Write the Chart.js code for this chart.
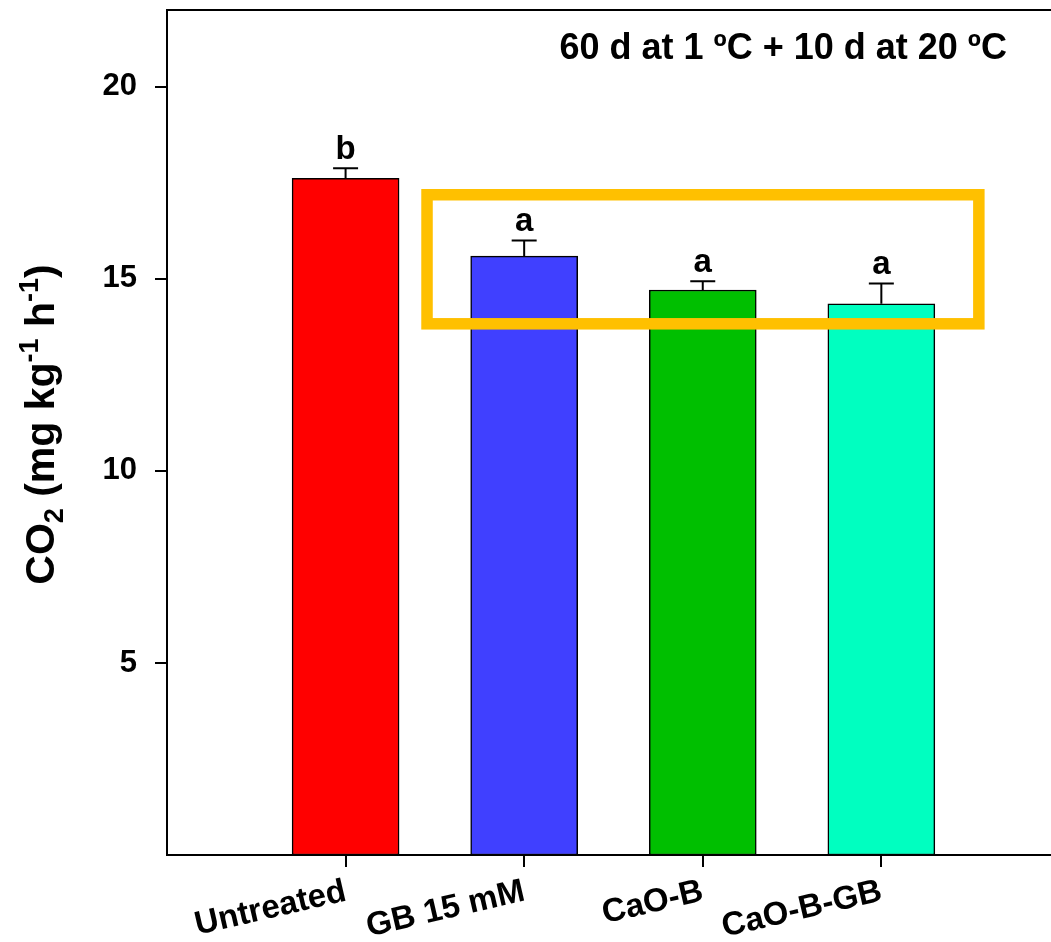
<!DOCTYPE html>
<html>
<head>
<meta charset="utf-8">
<script src="https://cdn.jsdelivr.net/npm/chart.js@4.4.1/dist/chart.umd.min.js"></script>
<style>
  html, body { margin: 0; padding: 0; background: #ffffff; }
  #wrap { width: 1051px; height: 942px; }
</style>
</head>
<body>
<div id="wrap"><canvas id="chart" width="1051" height="942"></canvas></div>
<script>
// Treatments and measured respiration rate (CO2, mg kg-1 h-1)
const categories = ['Untreated', 'GB 15 mM', 'CaO-B', 'CaO-B-GB'];
const co2Means = [17.62, 15.59, 14.71, 14.35];
const co2Errors = [0.26, 0.41, 0.23, 0.53];
const significance = ['b', 'a', 'a', 'a'];
const barColors = ['#FF0000', '#4040FF', '#00BF00', '#00FFC0'];
const yTickValues = [5, 10, 15, 20];
const conditionLabel = '60 d at 1 \u00BAC + 10 d at 20 \u00BAC';
// highlight box around the treated groups, in axis units
const boxX = [1.456, 4.546];
const boxY = [13.83, 17.19];

const FONT = '"Liberation Sans", Arial, Helvetica, sans-serif';

const points = categories.map((c, i) => ({ x: i + 1, y: co2Means[i] }));

const overlay = {
  id: 'overlay',
  afterDatasetsDraw(chart) {
    const ctx = chart.ctx;
    const xs = chart.scales.x, ys = chart.scales.y;
    const area = chart.chartArea;
    ctx.save();

    // error bars (upper half) with caps
    ctx.strokeStyle = '#000';
    ctx.lineWidth = 2;
    co2Means.forEach((m, i) => {
      const px = xs.getPixelForValue(i + 1);
      const y0 = ys.getPixelForValue(m);
      const y1 = ys.getPixelForValue(m + co2Errors[i]);
      ctx.beginPath();
      ctx.moveTo(px, y0);
      ctx.lineTo(px, y1);
      ctx.moveTo(px - 12.5, y1);
      ctx.lineTo(px + 12.5, y1);
      ctx.stroke();
    });

    // significance letters
    ctx.fillStyle = '#000';
    ctx.font = 'bold 33px ' + FONT;
    ctx.textAlign = 'center';
    ctx.textBaseline = 'alphabetic';
    co2Means.forEach((m, i) => {
      const px = xs.getPixelForValue(i + 1);
      const y1 = ys.getPixelForValue(m + co2Errors[i]);
      ctx.fillText(significance[i], px, y1 - 9);
    });

    // highlight box
    ctx.strokeStyle = '#FFC000';
    ctx.lineWidth = 11.5;
    ctx.lineJoin = 'miter';
    const bx0 = xs.getPixelForValue(boxX[0]), bx1 = xs.getPixelForValue(boxX[1]);
    const by0 = ys.getPixelForValue(boxY[1]), by1 = ys.getPixelForValue(boxY[0]);
    ctx.strokeRect(bx0, by0, bx1 - bx0, by1 - by0);

    // top frame line
    ctx.strokeStyle = '#000';
    ctx.lineWidth = 2;
    ctx.beginPath();
    ctx.moveTo(area.left, area.top);
    ctx.lineTo(area.right, area.top);
    ctx.stroke();

    // condition label
    ctx.font = 'bold 36px ' + FONT;
    ctx.textAlign = 'right';
    ctx.fillText(conditionLabel, 1007, 59);

    // y-axis title with sub/superscripts
    const big = 'bold 41px ' + FONT, small = 'bold 27px ' + FONT;
    const parts = [
      { t: 'CO', f: big, dy: 0 },
      { t: '2', f: small, dy: 9 },
      { t: ' (mg kg', f: big, dy: 0 },
      { t: '-1', f: small, dy: -16 },
      { t: ' h', f: big, dy: 0 },
      { t: '-1', f: small, dy: -16 },
      { t: ')', f: big, dy: 0 }
    ];
    let total = 0;
    parts.forEach(p => { ctx.font = p.f; p.w = ctx.measureText(p.t).width; total += p.w; });
    ctx.translate(54, (area.top + area.bottom) / 2 - 8);
    ctx.rotate(-Math.PI / 2);
    ctx.textAlign = 'left';
    let cx = -total / 2;
    parts.forEach(p => { ctx.font = p.f; ctx.fillText(p.t, cx, p.dy); cx += p.w; });
    ctx.restore();
  }
};

new Chart(document.getElementById('chart'), {
  type: 'bar',
  data: {
    datasets: [{
      data: points,
      backgroundColor: barColors,
      borderColor: '#000',
      borderWidth: 1.5,
      barThickness: 107,
      borderSkipped: false
    }]
  },
  options: {
    responsive: false,
    devicePixelRatio: 1,
    animation: false,
    layout: { padding: { top: 10, left: 0, right: 0, bottom: 0 } },
    plugins: { legend: { display: false }, tooltip: { enabled: false }, title: { display: false } },
    scales: {
      x: {
        type: 'linear',
        min: 0,
        max: 4.95,
        offset: false,
        grid: { display: true, offset: false, drawOnChartArea: false, drawTicks: true, tickLength: 12, color: '#000', lineWidth: 2 },
        border: { display: true, color: '#000', width: 2 },
        afterBuildTicks: s => { s.ticks = categories.map((c, i) => ({ value: i + 1 })); },
        afterFit: s => { s.height = 87; s.paddingLeft = 0; s.paddingRight = 0; },
        ticks: {
          autoSkip: false,
          minRotation: 13,
          maxRotation: 13,
          padding: 5,
          color: '#000',
          font: { family: FONT, size: 33, weight: 'bold' },
          callback: v => categories[v - 1] || ''
        }
      },
      y: {
        min: 0,
        max: 22,
        grid: { display: true, drawOnChartArea: false, drawTicks: true, tickLength: 12, color: '#000', lineWidth: 2 },
        border: { display: true, color: '#000', width: 2 },
        afterBuildTicks: s => { s.ticks = yTickValues.map(v => ({ value: v })); },
        afterFit: s => { s.width = 167; s.paddingTop = 0; s.paddingBottom = 0; },
        ticks: {
          padding: 18,
          color: '#000',
          font: { family: FONT, size: 31, weight: 'bold' },
          callback: v => String(v)
        }
      }
    }
  },
  plugins: [overlay]
});
</script>
</body>
</html>
